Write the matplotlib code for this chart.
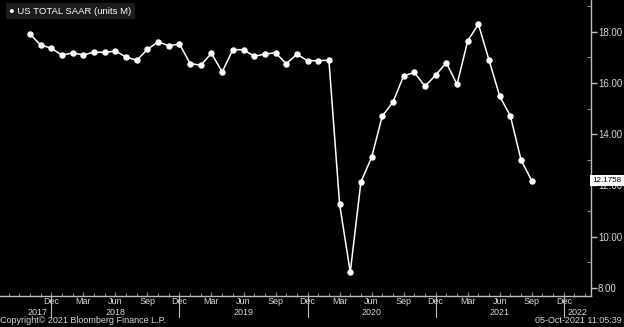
import numpy as np
import matplotlib
matplotlib.use("Agg")
from matplotlib import pyplot as plt
from matplotlib.ticker import FixedLocator, MultipleLocator, FormatStrFormatter
import matplotlib.transforms as mtransforms

# monthly US total SAAR, Oct 2017 .. Sep 2021 (units M)
start_year, start_month = 2017, 10
saar = [17.91, 17.48, 17.36, 17.08, 17.18, 17.09, 17.21, 17.19, 17.25, 17.01,
        16.89, 17.31, 17.61, 17.45, 17.52, 16.76, 16.69, 17.16, 16.43, 17.30,
        17.30, 17.04, 17.13, 17.18, 16.75, 17.12, 16.87, 16.87, 16.89, 11.27,
        8.61, 12.14, 13.09, 14.71, 15.25, 16.28, 16.41, 15.87, 16.31, 16.79,
        15.94, 17.64, 18.30, 16.89, 15.48, 14.71, 12.99, 12.18]
last_value = "12.1758"
series_name = "US TOTAL SAAR (units M)"
month_labels = ["Dec", "Mar", "Jun", "Sep"]
years = [2017, 2018, 2019, 2020, 2021, 2022]
year_label_pos = [0.75, 8, 20, 32, 44, 51.3]   # month index of the year captions

fg = "#d8d8d8"
plt.rcParams['font.family'] = ['Liberation Sans Narrow', 'Liberation Sans', 'DejaVu Sans']

fig = plt.figure(figsize=(6.24, 3.27), dpi=100, facecolor="black")
ax = fig.add_axes([0, 31 / 327, 591 / 624, 296 / 327], facecolor="black")

x = np.arange(len(saar))
ax.plot(x, saar, color="white", lw=1.1, marker="o", ms=3.6, mec="white", mfc="white")

ax.set_xlim(-2.81, 52.55)
ax.set_ylim(7.68, 19.24)

# spines: only bottom and right
for s in ["top", "left"]:
    ax.spines[s].set_visible(False)
for s in ["bottom", "right"]:
    ax.spines[s].set_color("#bdbdbd")
    ax.spines[s].set_linewidth(1.0)

# y axis on the right
ax.yaxis.tick_right()
ax.yaxis.set_major_locator(MultipleLocator(2))
ax.yaxis.set_minor_locator(MultipleLocator(1))
ax.yaxis.set_major_formatter(FormatStrFormatter("%.2f"))
ax.tick_params(axis="y", which="major", direction="out", length=4, width=1,
               color="#bdbdbd", labelcolor=fg, labelsize=7, pad=1)
ax.tick_params(axis="y", which="minor", direction="in", length=3, width=0.8,
               color="#8a8a8a")

# x axis: quarterly month labels, monthly minor ticks
quarter_idx = [i for i in range(0, 53) if (start_month - 1 + i) % 12 in (11, 2, 5, 8)]
labels = [month_labels[[11, 2, 5, 8].index((start_month - 1 + i) % 12)] for i in quarter_idx]
ax.xaxis.set_major_locator(FixedLocator(quarter_idx))
ax.set_xticklabels(labels)
ax.xaxis.set_minor_locator(MultipleLocator(1))
ax.tick_params(axis="x", which="major", direction="in", length=3, width=0.8,
               color="#8a8a8a", labelcolor=fg, labelsize=6.5, pad=1)
ax.tick_params(axis="x", which="minor", direction="in", length=2, width=0.8,
               color="#8a8a8a")

# year separators (at Dec) and year captions
trans = mtransforms.blended_transform_factory(ax.transData, ax.transAxes)
for i in range(-2, 53):
    if (start_month - 1 + i) % 12 == 11:
        ax.plot([i, i], [0, -0.072], transform=trans, color="#bdbdbd", lw=0.8, clip_on=False)
for yr, pos in zip(years, year_label_pos):
    ax.text(pos, -0.056, str(yr), transform=trans, color=fg, fontsize=6.5,
            ha="center", va="center")

# legend box
ax.text(0.016, 0.962, "\u25cf " + series_name, transform=ax.transAxes, color="white",
        fontsize=6.8, ha="left", va="center",
        bbox=dict(boxstyle="square,pad=0.35", fc="#1c1c1c", ec="none"))

# last value flag
ax.annotate(last_value, xy=(1.0, saar[-1]), xycoords=("axes fraction", "data"),
            xytext=(1.0, 0), textcoords="offset points", ha="left", va="center",
            fontsize=5.8, color="black", annotation_clip=False, zorder=10,
            bbox=dict(boxstyle="square,pad=0.25", fc="white", ec="none"))

# footer
fig.text(0.0, 0.005, "Copyright\u00a9 2021 Bloomberg Finance L.P.", color=fg,
         fontsize=6.5, ha="left", va="bottom")
fig.text(0.997, 0.005, "05-Oct-2021 11:05:39", color=fg, fontsize=6.5,
         ha="right", va="bottom")

fig.savefig("out.png", dpi=100, facecolor="black")
